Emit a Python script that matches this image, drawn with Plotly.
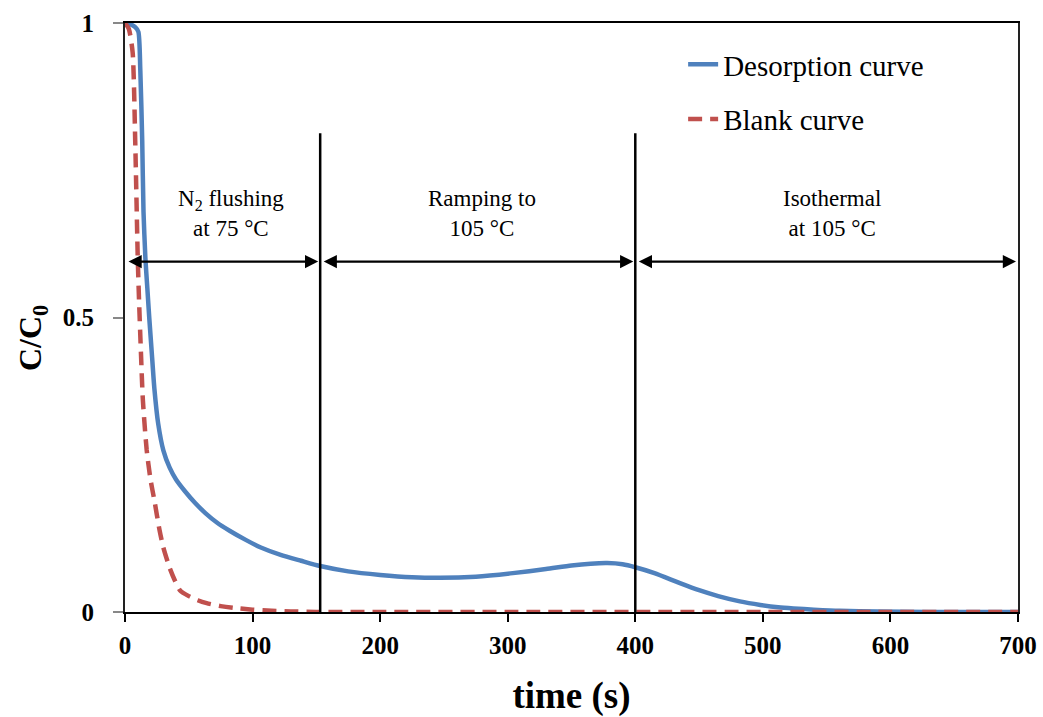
import plotly.graph_objects as go

# ---- data ----
desorption_t = [0, 4, 8, 10.5, 12, 13.5, 14.5, 16, 17.5, 19, 21, 23, 26, 30, 35, 40, 47, 55, 63, 72,
                82, 95, 106, 122, 138, 153, 175, 200, 225, 247, 275, 304, 330, 350, 365, 378,
                390, 400, 415, 435, 450, 465, 482, 498, 512, 524, 540, 560, 590, 630, 700]
desorption_c = [1.0, 0.998, 0.993, 0.985, 0.92, 0.80, 0.68, 0.60, 0.55, 0.50, 0.44, 0.38, 0.32, 0.275,
                0.245, 0.225, 0.205, 0.185, 0.168, 0.152, 0.138, 0.122, 0.110, 0.097, 0.087,
                0.078, 0.069, 0.063, 0.059, 0.058, 0.060, 0.066, 0.073, 0.079, 0.082, 0.083,
                0.081, 0.076, 0.066, 0.049, 0.037, 0.027, 0.018, 0.012, 0.008, 0.006, 0.004,
                0.002, 0.001, 0.0, 0.0]

blank_t = [0, 3, 6, 8, 10, 11, 12.5, 14, 17, 20, 23, 27, 30, 35, 39, 43, 50, 57, 64, 75, 85, 100,
           115, 130, 150, 200, 300, 400, 500, 600, 700]
blank_c = [1.0, 0.99, 0.95, 0.80, 0.60, 0.53, 0.44, 0.36, 0.275, 0.225, 0.19, 0.14, 0.11, 0.075,
           0.054, 0.037, 0.027, 0.02, 0.015, 0.010, 0.007, 0.004, 0.002, 0.001, 0.0, 0.0, 0.0,
           0.0, 0.0, 0.0, 0.0]

phase_bounds = [0, 153, 400, 700]
phase_labels = ["N<sub>2</sub> flushing<br>at 75 °C", "Ramping to<br>105 °C", "Isothermal<br>at 105 °C"]
phase_label_x = [83, 280, 554]
phase_label_y = 0.677
arrow_y = 0.595
divider_top = 0.813

x_ticks = [0, 100, 200, 300, 400, 500, 600, 700]
y_ticks = [0, 0.5, 1]
y_ticktext = ["0", "0.5", "1"]

BLUE = "#4F81BD"
RED = "#C0504D"
SERIF = "Liberation Serif"

fig = go.Figure()
fig.add_trace(go.Scatter(x=desorption_t, y=desorption_c, mode="lines", name="Desorption curve",
                         line=dict(color=BLUE, width=4.5, shape="spline", smoothing=0.6),
                         legendgroup="a"))
fig.add_trace(go.Scatter(x=blank_t, y=blank_c, mode="lines", name="Blank curve",
                         line=dict(color=RED, width=4.5, dash="14px,8px", shape="spline", smoothing=0.6),
                         legendgroup="b"))

# phase divider lines
for xb in phase_bounds[1:-1]:
    fig.add_shape(type="line", x0=xb, x1=xb, y0=0, y1=divider_top, xref="x", yref="y",
                  line=dict(color="black", width=2.5))

# double-headed arrows and labels
for i in range(len(phase_labels)):
    x0, x1 = phase_bounds[i], phase_bounds[i + 1]
    fig.add_annotation(x=x1, y=arrow_y, ax=x0, ay=arrow_y, xref="x", yref="y", axref="x", ayref="y",
                       text="", showarrow=True, arrowhead=2, startarrowhead=2, arrowside="end+start",
                       arrowwidth=2.2, arrowsize=1.2, startarrowsize=1.2, arrowcolor="black",
                       standoff=2, startstandoff=2)
    fig.add_annotation(x=phase_label_x[i], y=phase_label_y, xref="x", yref="y", text=phase_labels[i],
                       showarrow=False, font=dict(family=SERIF, size=23, color="black"),
                       xanchor="center", yanchor="middle", align="center")

# y-axis title as rotated annotation
fig.add_annotation(x=-93 / 893, y=(612 - 338) / 589, xref="paper", yref="paper",
                   text="<b>C/C<sub>0</sub></b>", textangle=-90, showarrow=False,
                   font=dict(family=SERIF, size=32, color="black"),
                   xanchor="center", yanchor="middle")

fig.update_layout(
    width=1043, height=717,
    margin=dict(l=125, r=25, t=23, b=105, autoexpand=False),
    paper_bgcolor="white", plot_bgcolor="white",
    showlegend=True,
    legend=dict(x=0.625, y=0.973, xanchor="left", yanchor="top",
                font=dict(family=SERIF, size=29, color="black"),
                bgcolor="rgba(0,0,0,0)", tracegroupgap=14, traceorder="grouped",
                itemwidth=30),
    xaxis=dict(range=[0, 700], tickvals=x_ticks, ticks="outside", ticklen=8, tickwidth=2,
               tickcolor="black", showline=True, linecolor="black", linewidth=2, mirror=True,
               showgrid=False, zeroline=False, automargin=False, ticklabelstandoff=2,
               tickfont=dict(family=SERIF, size=25, color="black", weight="bold"),
               title=dict(text="time (s)", font=dict(family=SERIF, size=37, color="black", weight="bold"),
                          standoff=30)),
    yaxis=dict(range=[0, 1], tickvals=y_ticks, ticktext=y_ticktext, ticks="outside", ticklen=10,
               tickwidth=2, tickcolor="#888888", showline=True, linecolor="#222222", linewidth=2,
               mirror=True, showgrid=False, zeroline=False, ticklabelstandoff=14, automargin=False,
               tickfont=dict(family=SERIF, size=25, color="black", weight="bold")),
)

fig.write_html("out.html", config={"displayModeBar": False},
               post_script="document.body.style.margin='0px';document.body.style.overflow='hidden';")
